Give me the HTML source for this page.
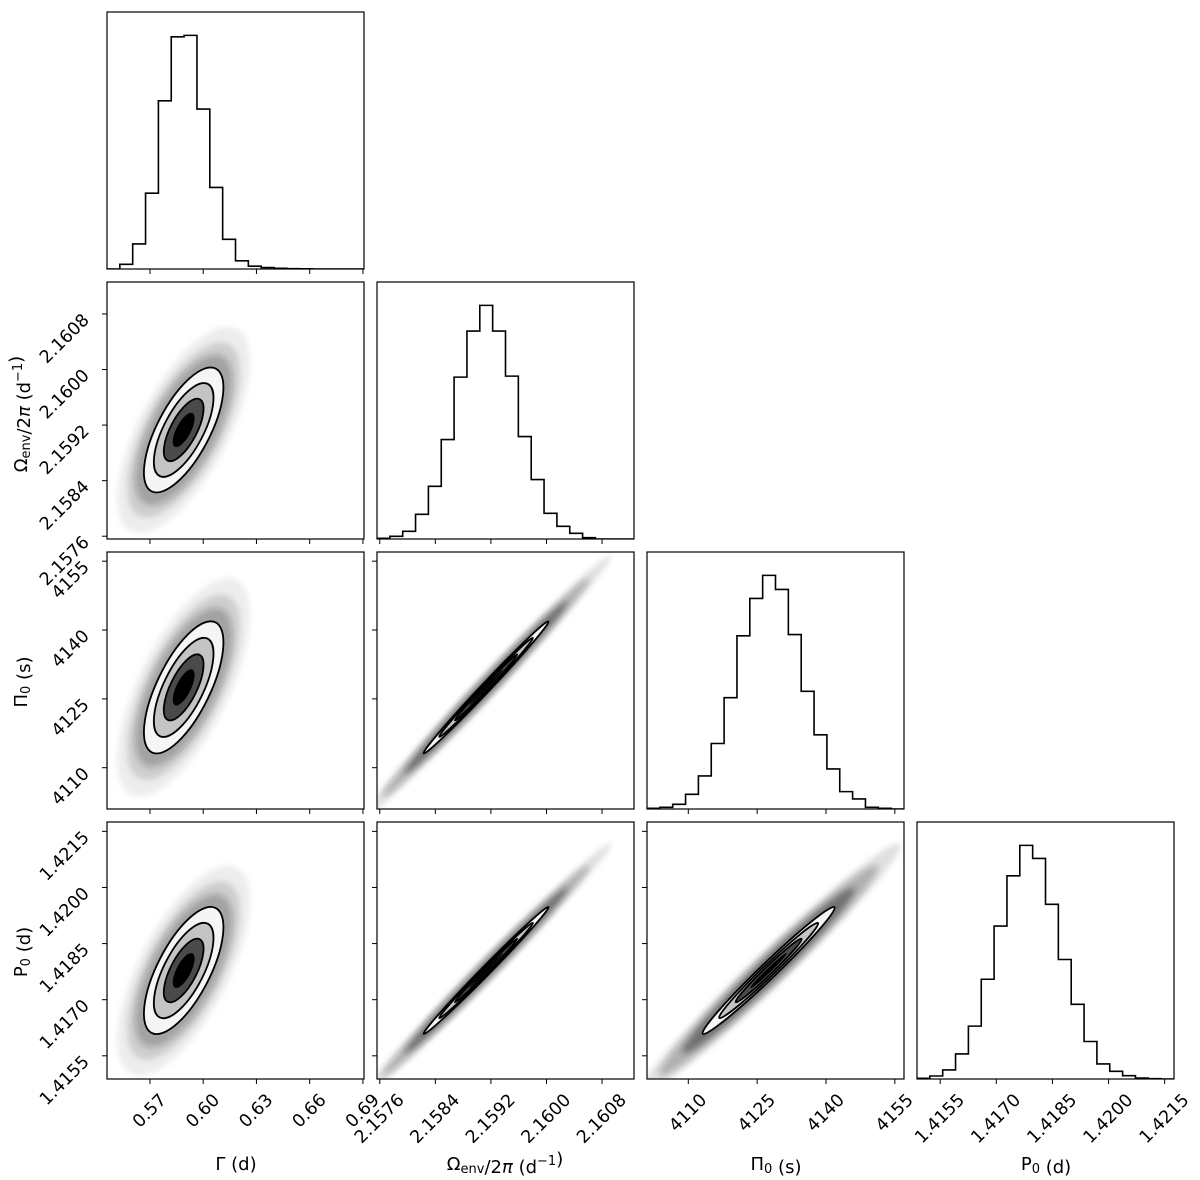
<!DOCTYPE html>
<html><head><meta charset="utf-8">
<style>
html,body{margin:0;padding:0;background:#fff;}
svg{display:block;font-family:"DejaVu Sans","Liberation Sans",sans-serif;}
</style></head>
<body>
<svg id="chart" width="1200" height="1180" viewBox="0 0 1200 1180" xmlns="http://www.w3.org/2000/svg">
<defs>
<filter id="blur3" x="-50%" y="-50%" width="200%" height="200%"><feGaussianBlur stdDeviation="3"/></filter>
</defs>
</svg>
<script>
// ---- data ----
const paramNames = ["gamma","omega","pi0","p0"];
const domGamma = [0.5458, 0.6906];
const domOmega = [2.15756, 2.16126];
const domPi0 = [4101.0, 4157.0];
const domP0 = [1.41488, 1.42175];
const histGamma = [0,13,70,212,470,649,653,447,228,83,23,8,4,2,1,0.5,0,0,0,0];
const histOmega = [2,8,23,74,158,298,485,623,700,623,488,307,178,77,38,17,4,0,0,0];
const histPi0 = [2,5,14,44,99,196,333,518,630,699,657,522,352,222,120,52,30,5,2,0];
const histP0 = [2,9,27,75,158,298,457,607,698,659,522,357,223,112,45,23,10,3,1,0];
const means = [0.5890, 2.15913, 4127.5, 1.41778];
const sds = [0.0112, 0.00045, 7.2, 0.00085];
const corrRow1 = [0.68];
const corrRow2 = [0.68, 0.995];
const corrRow3 = [0.68, 0.995, 0.985];
const ticksGamma = [0.57, 0.60, 0.63, 0.66, 0.69];
const tickLabelsGamma = ["0.57","0.60","0.63","0.66","0.69"];
const ticksOmega = [2.1576, 2.1584, 2.1592, 2.1600, 2.1608];
const tickLabelsOmega = ["2.1576","2.1584","2.1592","2.1600","2.1608"];
const ticksPi0 = [4110, 4125, 4140, 4155];
const tickLabelsPi0 = ["4110","4125","4140","4155"];
const ticksP0 = [1.4155, 1.4170, 1.4185, 1.4200, 1.4215];
const tickLabelsP0 = ["1.4155","1.4170","1.4185","1.4200","1.4215"];

// ---- layout ----
const doms = [domGamma, domOmega, domPi0, domP0];
const hists = [histGamma, histOmega, histPi0, histP0];
const ticks = [ticksGamma, ticksOmega, ticksPi0, ticksP0];
const tickLabels = [tickLabelsGamma, tickLabelsOmega, tickLabelsPi0, tickLabelsP0];
const corrs = [[], corrRow1, corrRow2, corrRow3];
const L = [107, 377, 647, 917];
const T = [12, 282, 552, 822];
const W = 257;
const FS = 17.5;
const NS = "http://www.w3.org/2000/svg";
const svg = document.getElementById("chart");

function xScale(j, v){ const d = doms[j]; return L[j] + (v - d[0])/(d[1]-d[0])*W; }
function yScale(i, v){ const d = doms[i]; return T[i] + W - (v - d[0])/(d[1]-d[0])*W; }
function mk(tag, attrs, parent){
  const e = document.createElementNS(NS, tag);
  for (const k in attrs) e.setAttribute(k, attrs[k]);
  (parent||svg).appendChild(e); return e;
}
// rotated (-45deg) label; returns element, positioned by its bbox via callback
function rotLabel(str, parent, place){
  const t = mk("text", {x: 0, y: 0, "text-anchor":"middle", "dominant-baseline":"central", "font-size": FS, fill:"#000"}, parent);
  t.textContent = str;
  const len = t.getComputedTextLength();
  const B = (len + 0.72*FS)*0.7071;
  const c = place(B);
  t.setAttribute("x", c[0]); t.setAttribute("y", c[1]);
  t.setAttribute("transform", "rotate(-45 " + c[0] + " " + c[1] + ")");
  return t;
}

function drawPanel(i, j){
  const g = mk("g", {});
  
  
  const cid = "clip" + i + j;
  const cp = mk("clipPath", {id: cid}, g);
  mk("rect", {x: L[j], y: T[i], width: W, height: W}, cp);
  const inner = mk("g", {"clip-path": "url(#" + cid + ")"}, g);
  if (i === j){
    const h = hists[j]; const n = h.length; const mx = Math.max(...h)*1.1;
    const d = doms[j]; const bw = (d[1]-d[0])/n;
    let p = "M" + xScale(j, d[0]) + "," + (T[i]+W);
    for (let k=0;k<n;k++){
      const x0 = xScale(j, d[0]+k*bw), x1 = xScale(j, d[0]+(k+1)*bw);
      const y = T[i] + W - h[k]/mx*W;
      p += " L" + x0 + "," + y + " L" + x1 + "," + y;
    }
    p += " L" + xScale(j, d[1]) + "," + (T[i]+W);
    const path = mk("path", {d: p, fill: "none", stroke: "#000", "stroke-width": 1.6}, inner);
    
    
  } else {
    const cx = xScale(j, means[j]), cy = yScale(i, means[i]);
    const sx = Math.abs(xScale(j, means[j]+sds[j]) - cx);
    const sy = Math.abs(yScale(i, means[i]+sds[i]) - cy);
    const r = corrs[i][j];
    const a = sx*sx, c = sy*sy, b = -r*sx*sy;
    const m = (a+c)/2, q = Math.sqrt(((a-c)/2)**2 + b*b);
    const l1 = m+q, l2 = Math.max(m-q, 0.5);
    const ang = 0.5*Math.atan2(2*b, a-c)*180/Math.PI;
    const tr = "translate(" + cx + "," + cy + ") rotate(" + ang + ")";
    const eg = mk("g", {transform: tr}, inner);
    const thin = r > 0.9;
    const haze = thin ? [[4.0, 0.12], [3.3, 0.25], [2.6, 0.45]] : [[3.3, 0.07], [2.8, 0.13], [2.4, 0.25]];
    haze.forEach(hz => {
      const e = mk("ellipse", {cx:0, cy:0, rx: hz[0]*Math.sqrt(l1), ry: hz[0]*Math.sqrt(l2)+1.5, fill:"#222", "fill-opacity": hz[1], filter:"url(#blur3)"}, eg);
      
      
    });
    const lev = [[2.0, "#f5f5f5"], [1.5, "#c4c4c4"], [1.0, "#4a4a4a"]];
    lev.forEach(lv => {
      const e = mk("ellipse", {cx:0, cy:0, rx: lv[0]*Math.sqrt(l1), ry: lv[0]*Math.sqrt(l2), fill: lv[1], stroke:"#000", "stroke-width": 1.8}, eg);
      
      
    });
    const core = mk("ellipse", {cx:0, cy:0, rx: 0.55*Math.sqrt(l1), ry: 0.55*Math.sqrt(l2), fill:"#000"}, eg);
    
    
  }
  const fr = mk("rect", {x: L[j], y: T[i], width: W, height: W, fill: "none", stroke: "#000", "stroke-width": 1.2}, g);
  
  
  // x ticks
  ticks[j].forEach((v, k) => {
    const x = xScale(j, v);
    mk("line", {x1: x, x2: x, y1: T[i]+W, y2: T[i]+W+5, stroke:"#000", "stroke-width": 1}, g);
    if (i === 3){
      const t = rotLabel(tickLabels[j][k], g, B => [x, T[i]+W+14 + B/2]);
      
      
    }
  });
  // y ticks
  if (i !== j){
    ticks[i].forEach((v, k) => {
      const y = yScale(i, v);
      mk("line", {x1: L[j]-5, x2: L[j], y1: y, y2: y, stroke:"#000", "stroke-width": 1}, g);
      if (j === 0){
        const t = rotLabel(tickLabels[i][k], g, B => [L[j]-16 - B/2, y - 1 + B/2]);
        
        
      }
    });
  }
}
for (let i=0;i<4;i++) for (let j=0;j<=i;j++) drawPanel(i, j);

// axis titles
function title(x, y, html, rot, name){
  const t = mk("text", {x: x, y: y, "text-anchor":"middle", "font-size": 18, fill:"#000"});
  if (rot) t.setAttribute("transform", "rotate(-90 " + x + " " + y + ")");
  t.innerHTML = html;
  
  
}
const sub = (s) => '<tspan font-size="13" dy="3">' + s + '</tspan><tspan dy="-3"></tspan>';
const sup = (s) => '<tspan font-size="13" dy="-8">' + s + '</tspan><tspan dy="8"></tspan>';
title(236, 1170, 'Γ (d)', false, 'x-axis-title-gamma');
title(505, 1170, 'Ω' + sub('env') + '/2<tspan font-style="italic">π</tspan> (d' + sup('−1') + ')', false, 'x-axis-title-omega');
title(776, 1170, 'Π' + sub('0') + ' (s)', false, 'x-axis-title-pi0');
title(1046, 1170, 'P' + sub('0') + ' (d)', false, 'x-axis-title-p0');
title(27, 414, 'Ω' + sub('env') + '/2<tspan font-style="italic">π</tspan> (d' + sup('−1') + ')', true, 'y-axis-title-omega');
title(27, 682, 'Π' + sub('0') + ' (s)', true, 'y-axis-title-pi0');
title(27, 952, 'P' + sub('0') + ' (d)', true, 'y-axis-title-p0');
</script>
</body></html>
